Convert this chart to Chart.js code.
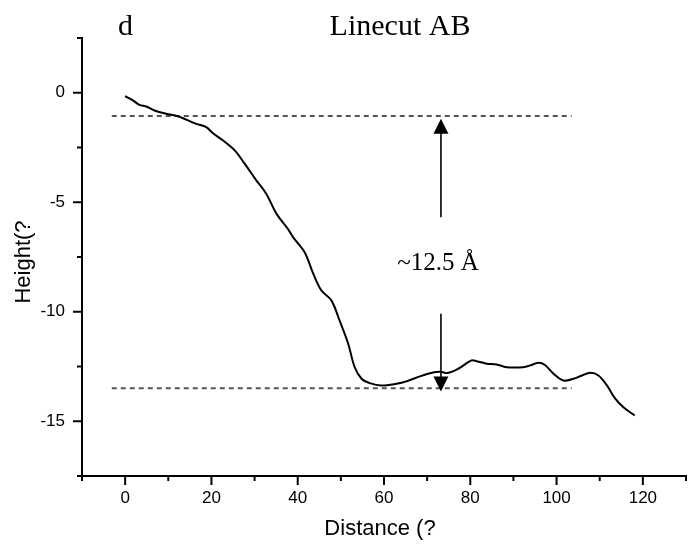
<!DOCTYPE html>
<html>
<head>
<meta charset="utf-8">
<script src="https://cdn.jsdelivr.net/npm/chart.js@4.4.1/dist/chart.umd.min.js"></script>
<style>
  html, body { margin: 0; padding: 0; background: #fff; }
</style>
</head>
<body>
<canvas id="linecutChart" width="691" height="544"></canvas>
<script>
// line profile
const distance = [0, 1.8, 3.3, 4.9, 6.8, 9.5, 12.2, 14.2, 16.5, 18.8, 20.3, 22.7, 25.4, 27.7, 30.4,
  32.7, 35.1, 37.7, 38.9, 41.6, 43.6, 45.5, 47.8, 49.7, 51.7, 53.2, 54.8, 56.7, 59.4, 62.9,
  65.2, 68.3, 71.6, 73.2, 74.7, 77.4, 80.3, 81.5, 83.8, 86.1, 88.4, 92.3, 93.9, 95.8, 97.3,
  99.3, 101.6, 103.9, 105.9, 107.8, 109.7, 111.7, 113.6, 115.5, 118.1];
const height = [-0.16, -0.35, -0.55, -0.63, -0.81, -0.96, -1.07, -1.23, -1.42, -1.57, -1.84, -2.18, -2.63, -3.24, -4.0,
  -4.61, -5.53, -6.21, -6.59, -7.28, -8.26, -9.03, -9.48, -10.4, -11.46, -12.53, -13.06, -13.26, -13.37, -13.29,
  -13.18, -12.95, -12.76, -12.74, -12.8, -12.58, -12.22, -12.26, -12.37, -12.41, -12.53, -12.53, -12.45, -12.33, -12.43,
  -12.83, -13.14, -13.06, -12.91, -12.79, -12.91, -13.37, -13.97, -14.36, -14.74];

const xTickLabels = [0, 20, 40, 60, 80, 100, 120];
const xMinorTicks = [-10, 10, 30, 50, 70, 90, 110, 130];
const yTickLabels = [0, -5, -10, -15];
const yMinorTicks = [2.5, -2.5, -7.5, -12.5, -17.5];

// reference levels and the step arrow
const levelX = [-3.1, 103.5];
const upperLevel = -1.06;
const lowerLevel = -13.49;
const arrowX = 73.2;
const upperArrow = [-5.68, -1.19];
const lowerArrow = [-10.09, -13.64];

const pts = distance.map((d, i) => ({ x: d, y: height[i] }));
const level = v => levelX.map(x => ({ x: x, y: v }));

const extras = {
    id: 'extras',
    afterDraw(chart) {
        const ctx = chart.ctx;
        const sx = chart.scales.x, sy = chart.scales.y;
        const area = chart.chartArea;
        ctx.save();
        ctx.strokeStyle = '#000';
        ctx.fillStyle = '#000';
        ctx.lineWidth = 2;

        const seg = (x1, y1, x2, y2) => {
            ctx.beginPath(); ctx.moveTo(x1, y1); ctx.lineTo(x2, y2); ctx.stroke();
        };
        xTickLabels.forEach(v => { const p = sx.getPixelForValue(v); seg(p, area.bottom, p, area.bottom + 9); });
        xMinorTicks.forEach(v => { const p = sx.getPixelForValue(v); seg(p, area.bottom, p, area.bottom + 5); });
        yTickLabels.forEach(v => { const p = sy.getPixelForValue(v); seg(area.left, p, area.left - 9, p); });
        yMinorTicks.forEach(v => { const p = sy.getPixelForValue(v); seg(area.left, p, area.left - 5, p); });

        // arrows
        const ax = sx.getPixelForValue(arrowX);
        const arrow = (from, to) => {
            const y0 = sy.getPixelForValue(from), y1 = sy.getPixelForValue(to);
            const dir = y1 < y0 ? 1 : -1;
            ctx.lineWidth = 1.6;
            seg(ax, y0, ax, y1 + dir * 14);
            ctx.beginPath();
            ctx.moveTo(ax, y1);
            ctx.lineTo(ax - 7.5, y1 + dir * 15);
            ctx.lineTo(ax + 7.5, y1 + dir * 15);
            ctx.closePath();
            ctx.fill();
        };
        arrow(upperArrow[0], upperArrow[1]);
        arrow(lowerArrow[0], lowerArrow[1]);

        // texts
        ctx.font = '30px "Liberation Serif"';
        ctx.textBaseline = 'alphabetic';
        ctx.textAlign = 'left';
        ctx.fillText('d', 118, 35);
        ctx.textAlign = 'center';
        ctx.fillText('Linecut AB', 400, 35);
        ctx.font = '25px "Liberation Serif"';
        ctx.fillText('~12.5 Å', 438, 270);

        ctx.font = '22px "Liberation Sans"';
        ctx.textBaseline = 'middle';
        ctx.fillText('Distance (?', 380, 529);
        ctx.translate(24, 262);
        ctx.rotate(-Math.PI / 2);
        ctx.fillText('Height(?', 0, 0);
        ctx.restore();
    }
};

new Chart(document.getElementById('linecutChart'), {
    type: 'line',
    data: {
        datasets: [
            {
                data: pts,
                borderColor: '#000',
                borderWidth: 2,
                pointRadius: 0,
                tension: 0.35,
                fill: false
            },
            {
                data: level(upperLevel),
                borderColor: '#555',
                borderWidth: 2,
                borderDash: [5, 4],
                pointRadius: 0
            },
            {
                data: level(lowerLevel),
                borderColor: '#555',
                borderWidth: 2,
                borderDash: [5, 4],
                pointRadius: 0
            }
        ]
    },
    options: {
        responsive: false,
        animation: false,
        layout: { padding: { top: 38, right: 5, left: 0, bottom: 0 } },
        plugins: {
            legend: { display: false },
            tooltip: { enabled: false }
        },
        scales: {
            x: {
                type: 'linear',
                min: -10,
                max: 130,
                afterFit(scale) { scale.height = 68; },
                afterBuildTicks(scale) { scale.ticks = xTickLabels.map(v => ({ value: v })); },
                grid: { display: false, drawTicks: false },
                border: { display: true, color: '#000', width: 2 },
                ticks: {
                    padding: 12,
                    maxRotation: 0,
                    autoSkip: false,
                    color: '#000',
                    font: { family: '"Liberation Sans"', size: 17 }
                }
            },
            y: {
                type: 'linear',
                min: -17.5,
                max: 2.5,
                afterFit(scale) { scale.width = 82; },
                afterBuildTicks(scale) { scale.ticks = yTickLabels.map(v => ({ value: v })); },
                grid: { display: false, drawTicks: false },
                border: { display: true, color: '#000', width: 2 },
                ticks: {
                    padding: 17,
                    autoSkip: false,
                    color: '#000',
                    font: { family: '"Liberation Sans"', size: 17 }
                }
            }
        }
    },
    plugins: [extras]
});
</script>
</body>
</html>
